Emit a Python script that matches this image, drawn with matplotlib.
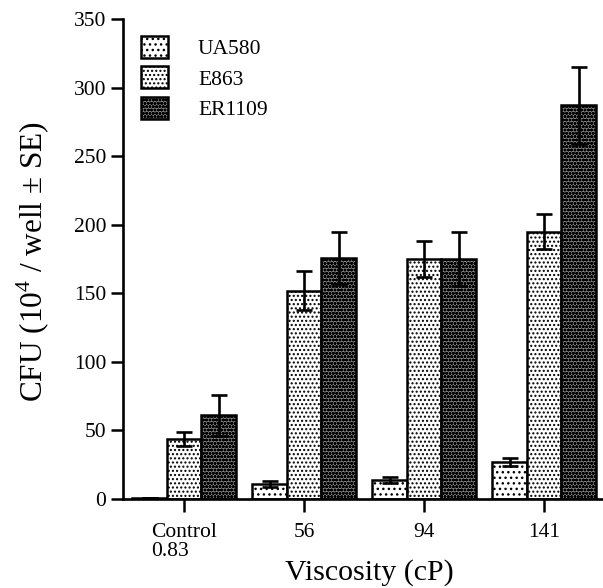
import matplotlib.pyplot as plt
import numpy as np
from matplotlib.patches import Patch

plt.rcParams['font.family'] = ['Liberation Serif', 'DejaVu Serif']
plt.rcParams['mathtext.fontset'] = 'custom'
plt.rcParams['mathtext.rm'] = 'Liberation Serif'
plt.rcParams['hatch.linewidth'] = 1.0

# data
groups = ["Control\n0.83", "56", "94", "141"]
strains = ["UA580", "E863", "ER1109"]
ua580 = [0.8, 11, 14, 27]
ua580_se = [0, 2, 2, 3]
e863 = [44, 152, 175, 195]
e863_se = [5, 14, 13, 13]
er1109 = [61, 176, 175, 287]
er1109_se = [15, 19, 20, 28]

values = [ua580, e863, er1109]
errors = [ua580_se, e863_se, er1109_se]
faces = ["white", "white", "#8a8a8a"]
hatches = ["...", "....", "ooooo"]

fig = plt.figure(figsize=(6.03, 5.88), dpi=100)
ax = fig.add_axes([123 / 603, 1 - 499 / 588, 1 - 123 / 603, (499 - 19) / 588])

x = np.arange(len(groups))
w = 0.2875
for i in range(3):
    pos = x + (i - 1) * w
    ax.bar(pos, values[i], width=w, color=faces[i], edgecolor="black",
           linewidth=1.8, hatch=hatches[i], zorder=2)
    ax.errorbar(pos, values[i], yerr=errors[i], fmt="none", ecolor="black",
                elinewidth=1.9, capsize=6, capthick=1.9, zorder=3)

ax.set_xlim(-0.51, 3.49)
ax.set_ylim(0, 350)
ax.set_yticks(np.arange(0, 351, 50))
ax.set_xticks(x)
ax.set_xticklabels(groups, linespacing=1.0)
for t in ax.get_xticklabels():
    t.set_multialignment("left")
ax.tick_params(axis="both", direction="out", length=9, width=1.8,
               labelsize=15.5, pad=3)
ax.tick_params(axis="x", pad=8)
for s in ["top", "right"]:
    ax.spines[s].set_visible(False)
for s in ["left", "bottom"]:
    ax.spines[s].set_linewidth(1.9)

ax.set_xlabel("Viscosity (cP)", fontsize=21.5)
ax.xaxis.set_label_coords(0.513, -0.126)
ax.set_ylabel("CFU (10$^4$ / well ± SE)", fontsize=22.5)
ax.yaxis.set_label_coords(-0.148, 0.495)

handles = [Patch(facecolor=faces[i], edgecolor="black", linewidth=1.8,
                 hatch=hatches[i]) for i in range(3)]
leg = ax.legend(handles, strains, loc="upper left", frameon=False,
                bbox_to_anchor=(141 / 603, 1 - 36 / 588),
                bbox_transform=fig.transFigure, fontsize=15.5,
                handlelength=1.25, handleheight=1.2, labelspacing=0.33,
                handletextpad=1.4, borderpad=0, borderaxespad=0)

fig.savefig("out.png", dpi=100)
